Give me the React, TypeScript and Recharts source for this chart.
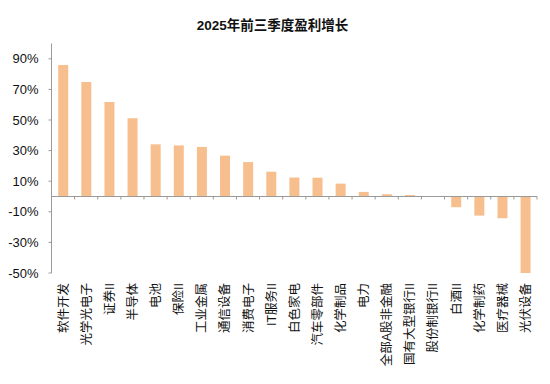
import React from 'react';
import { BarChart, Bar, XAxis, YAxis, ReferenceLine } from 'recharts';

const categories = [
  '软件开发', '光学光电子', '证券II', '半导体', '电池', '保险II', '工业金属', '通信设备',
  '消费电子', 'IT服务II', '白色家电', '汽车零部件', '化学制品', '电力', '全部A股非金融',
  '国有大型银行II', '股份制银行II', '白酒II', '化学制药', '医疗器械', '光伏设备',
];
const growth = [
  86, 74.8, 61.8, 51.1, 34.1, 33.4, 32.4, 26.7, 22.5, 16.2, 12.4, 12.3, 8.4, 3.0, 1.5,
  1.0, -0.2, -7.0, -12.5, -14.2, -50,
];
const yTicks = [-50, -30, -10, 10, 30, 50, 70, 90];
const title = '2025年前三季度盈利增长';

const data = categories.map((name, i) => ({ name, value: growth[i] }));

const FONT = '"Liberation Sans", Arial, "Noto Sans CJK SC", sans-serif';
const AXIS_COLOR = '#9a9a9a';
const LABEL_FS = 12.5;

const RotatedTick = (props: any) => {
  const { x, y, payload } = props;
  return (
    <text
      x={x}
      y={y}
      transform={`rotate(-90, ${x}, ${y})`}
      dy="0.36em"
      textAnchor="end"
      fontSize={LABEL_FS}
      fill="#111"
      fontFamily={FONT}
    >
      {payload.value}
    </text>
  );
};

const ZeroAxis = (props: any) => {
  const { x1, y1, x2, y2 } = props;
  const n = categories.length;
  const ticks = [];
  for (let i = 1; i <= n; i++) {
    const tx = x1 + ((x2 - x1) * i) / n;
    ticks.push(<line key={i} x1={tx} x2={tx} y1={y1} y2={y1 + 3} stroke={AXIS_COLOR} strokeWidth={1} />);
  }
  return (
    <g>
      <line x1={x1} y1={y1} x2={x2} y2={y2} stroke={AXIS_COLOR} strokeWidth={1} />
      {ticks}
    </g>
  );
};

export default function App() {
  return (
    <div style={{ position: 'absolute', left: 0, top: 0, width: 550, height: 384, background: '#fff' }}>
      <div
        style={{
          position: 'absolute',
          left: 0,
          top: 17,
          width: 545,
          textAlign: 'center',
          fontFamily: FONT,
          fontWeight: 'bold',
          fontSize: 13.5,
          color: '#111',
          lineHeight: '18px',
        }}
      >
        {title}
      </div>
      <BarChart
        width={550}
        height={384}
        data={data}
        margin={{ top: 43.5, right: 13, bottom: 11, left: 0 }}
        barCategoryGap="29%"
      >
        <XAxis
          dataKey="name"
          axisLine={false}
          tickLine={false}
          height={100}
          interval={0}
          tickSize={0}
          tickMargin={10}
          tick={<RotatedTick />}
        />
        <YAxis
          width={51.5}
          domain={[-50, 100]}
          ticks={yTicks}
          tickFormatter={(v: number) => `${v}%`}
          axisLine={{ stroke: AXIS_COLOR }}
          tickLine={{ stroke: AXIS_COLOR }}
          tickSize={3}
          tickMargin={10}
          tick={{ fontSize: 13, fill: '#111', fontFamily: FONT }}
        />
        <Bar dataKey="value" fill="#F7BF8E" isAnimationActive={false} />
        <ReferenceLine y={0} shape={<ZeroAxis />} />
      </BarChart>
    </div>
  );
}
